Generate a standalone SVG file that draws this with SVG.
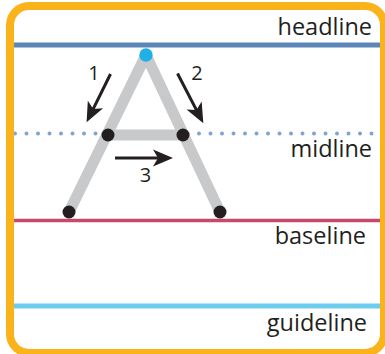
<svg xmlns="http://www.w3.org/2000/svg" width="385" height="354" viewBox="0 0 385 354">
<style>
.lbl{font-family:"Open Sans","Liberation Sans",sans-serif;font-size:23.5px;fill:#231f20;text-anchor:end}
.num{font-family:"Open Sans","Liberation Sans",sans-serif;font-size:20px;fill:#231f20;text-anchor:middle}
.stroke{stroke:#c8c9ca;stroke-width:11;fill:none;stroke-linejoin:round}
.dot{fill:#231f20}
.arrow{stroke:#231f20;stroke-width:3;fill:none;marker-end:url(#ah)}
</style>
<defs>
<marker id="ah" markerUnits="userSpaceOnUse" viewBox="0 0 34 20" refX="20" refY="10" markerWidth="34" markerHeight="20" orient="auto" overflow="visible">
<path d="M32 10 L12 1.5 L17 10 L12 18.5 Z" fill="#231f20"/>
</marker>
</defs>
<rect width="385" height="354" fill="#ffffff"/>
<g id="guides">
<line x1="12" y1="45" x2="382" y2="45" stroke="#5a87b8" stroke-width="5"/>
<line x1="15" y1="133.5" x2="382" y2="133.5" stroke="#7fa3d3" stroke-width="4" stroke-linecap="round" stroke-dasharray="0 11.5"/>
<line x1="12" y1="220.5" x2="382" y2="220.5" stroke="#c64a6a" stroke-width="3.5"/>
<line x1="12" y1="306" x2="382" y2="306" stroke="#6dcdef" stroke-width="5"/>
</g>
<rect id="frame" x="10" y="6" width="374" height="347" rx="19" ry="19" fill="none" stroke="#fbb31b" stroke-width="8"/>
<g id="labels">
<text class="lbl" x="372" y="35">headline</text>
<text class="lbl" x="372" y="157">midline</text>
<text class="lbl" x="366" y="244">baseline</text>
<text class="lbl" x="367" y="331">guideline</text>
</g>
<g id="letterA">
<polyline class="stroke" points="69,212 146,55 220,212"/>
<line class="stroke" x1="108" y1="135" x2="183" y2="135"/>
<circle class="dot" cx="69" cy="212" r="6.5"/>
<circle class="dot" cx="220" cy="212" r="6.5"/>
<circle class="dot" cx="108" cy="135" r="6.5"/>
<circle class="dot" cx="183" cy="135" r="6.5"/>
<circle cx="146" cy="55" r="6.7" fill="#1fb0e6"/>
</g>
<g id="connectors">
<line class="arrow" x1="110.5" y1="74" x2="91.9" y2="111.6"/>
<line class="arrow" x1="177.5" y1="73.5" x2="197.8" y2="112.6"/>
<line class="arrow" x1="115" y1="158" x2="161" y2="158"/>
</g>
<g id="numbers">
<text class="num" x="94" y="80">1</text>
<text class="num" x="197" y="80">2</text>
<text class="num" x="145.5" y="182">3</text>
</g>
</svg>
